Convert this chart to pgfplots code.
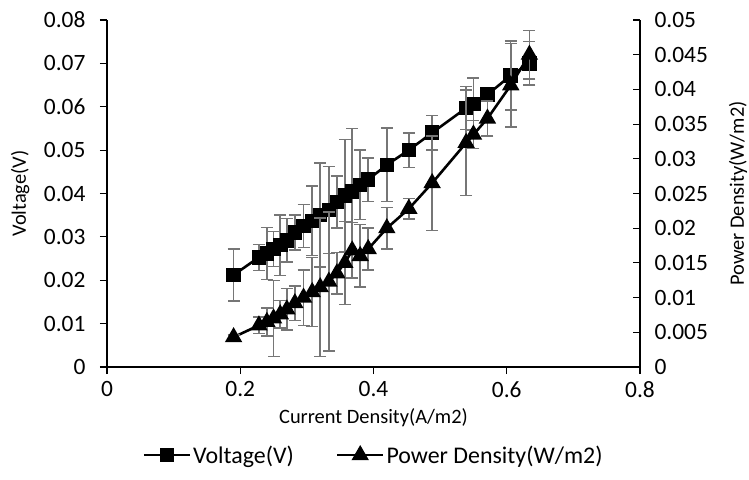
\documentclass[border=0pt]{standalone}
\usepackage{fontspec}
\setmainfont{Carlito}
\usepackage{pgfplots}
\pgfplotsset{compat=1.18}
\usepackage{pgfplotstable}
\definecolor{errgray}{RGB}{118,118,118}

% current density, voltage, voltage error
\pgfplotstableread{
I     V       Verr
0.190 0.0212  0.0060
0.228 0.0253  0.0030
0.240 0.0262  0.0060
0.250 0.0272  0.0040
0.260 0.0281  0.0070
0.270 0.0292  0.0050
0.282 0.0310  0.0040
0.295 0.0325  0.0050
0.308 0.0337  0.0080
0.320 0.0350  0.0120
0.333 0.0362  0.0100
0.345 0.0380  0.0060
0.357 0.0395  0.0130
0.368 0.0405  0.0145
0.380 0.0420  0.0080
0.392 0.0432  0.0050
0.420 0.0466  0.0085
0.453 0.0500  0.0040
0.488 0.0540  0.0040
0.539 0.0597  0.0050
0.550 0.0606  0.0060
0.571 0.0628  0.0015
0.606 0.0672  0.0080
0.634 0.0700  0.0050
}\voltdata

% current density, power density, power error
\pgfplotstableread{
I     P       Perr
0.190 0.0043  0.0003
0.228 0.0060  0.0012
0.240 0.0065  0.0020
0.250 0.0070  0.0055
0.260 0.0076  0.0020
0.270 0.0083  0.0030
0.282 0.0092  0.0025
0.295 0.0100  0.0040
0.308 0.0108  0.0050
0.320 0.0115  0.0100
0.333 0.0123  0.0100
0.345 0.0135  0.0030
0.357 0.0150  0.0060
0.368 0.0168  0.0040
0.380 0.0160  0.0045
0.392 0.0170  0.0030
0.420 0.0200  0.0030
0.453 0.0228  0.0015
0.488 0.0265  0.0068
0.539 0.0323  0.0076
0.550 0.0335  0.0020
0.571 0.0358  0.0025
0.606 0.0406  0.0060
0.634 0.0450  0.0035
}\powdata

\begin{document}
\begin{tikzpicture}
\pgfplotsset{
  common/.style={
    width=533bp, height=347bp, scale only axis,
    xmin=0, xmax=0.8,
    xtick={0,0.2,0.4,0.6,0.8},
    axis line style={line width=1.1pt},
    major tick style={line width=1.1pt, black},
    major tick length=7bp,
    tick label style={font=\fontsize{23.5}{27}\selectfont},
    label style={font=\fontsize{20.5}{24}\selectfont},
    /pgf/number format/assume math mode=true,
    scaled y ticks=false,
    yticklabel style={/pgf/number format/fixed, /pgf/number format/precision=3},
  },
  errbars/.style={
    error bars/.cd, y dir=both, y explicit,
    error bar style={errgray, line width=1.5pt},
    error mark options={rotate=90, errgray, line width=1.5pt, mark size=6bp},
  },
}
\begin{axis}[
  common,
  axis y line*=left, axis x line*=bottom,
  tick align=outside,
  ymin=0, ymax=0.08,
  ytick={0,0.01,0.02,0.03,0.04,0.05,0.06,0.07,0.08},
  yticklabel style={xshift=-11bp},
  xticklabel style={yshift=-4bp},
  xlabel={Current Density(A/m2)},
  ylabel={Voltage(V)},
  xlabel style={at={(axis description cs:0.5,-0.146)}, anchor=center},
  ylabel style={at={(axis description cs:-0.163,0.5)}, anchor=center},
]
\coordinate (bbsw) at (rel axis cs:0,0);
\addplot[black, line width=2.6pt, mark=square*, mark size=6bp,
  mark options={solid}, errbars]
  table[x=I, y=V, y error=Verr] {\voltdata};
\end{axis}
\begin{axis}[
  common,
  axis y line*=right, axis x line=none,
  tick align=inside,
  ymin=0, ymax=0.05,
  ytick={0,0.005,0.01,0.015,0.02,0.025,0.03,0.035,0.04,0.045,0.05},
  yticklabel style={xshift=11bp},
  ylabel={Power Density(W/m2)},
  ylabel style={at={(axis description cs:1.184,0.5)}, anchor=center},
  legend style={at={(0.5,-0.254)}, anchor=center, draw=none,
    font=\fontsize{24}{28}\selectfont, legend columns=2,
    /tikz/every even column/.append style={column sep=40bp}},
  legend image code/.code={
    \draw[#1, mark repeat=2, mark phase=2]
      plot coordinates {(0bp,0bp) (23bp,0bp) (46bp,0bp)};},
]
\addlegendimage{black, line width=2.6pt, mark=square*, mark size=6bp}
\addlegendentry{Voltage(V)}
\addplot[black, line width=2.6pt, mark=triangle*, mark size=7.5bp,
  mark options={solid}, errbars]
  table[x=I, y=P, y error=Perr] {\powdata};
\addlegendentry{Power Density(W/m2)}
\end{axis}
\pgfresetboundingbox
\path (bbsw) ++(-107bp,-113bp) rectangle ++(749bp,480bp);
\end{tikzpicture}
\end{document}
